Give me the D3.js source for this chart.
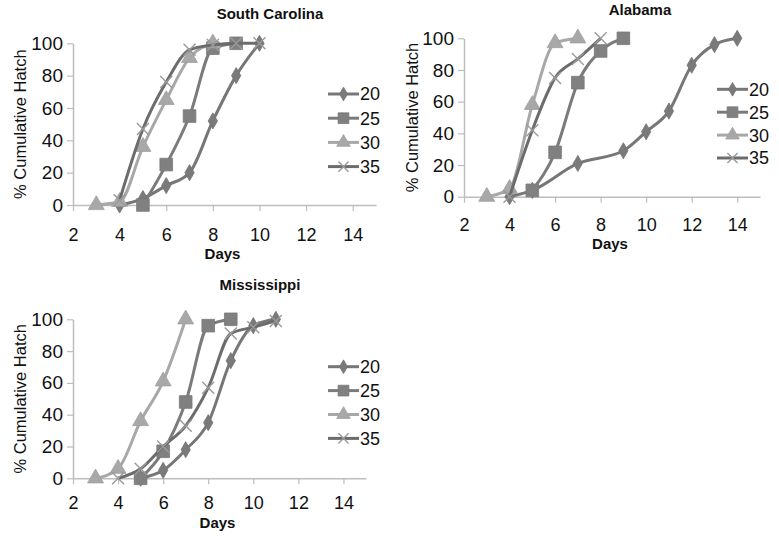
<!DOCTYPE html>
<html><head><meta charset="utf-8">
<script src="https://cdn.jsdelivr.net/npm/d3@7"></script>
<style>body{margin:0;background:#fff}svg{display:block}text{font-family:"Liberation Sans",Arial,sans-serif;fill:#111}</style>
</head><body><svg id="c" width="779" height="537"></svg>
<script>
// ---- data ----
const seriesNames = ["20","25","30","35"];
const xTicks = [2,4,6,8,10,12,14];
const yTicks = [0,20,40,60,80,100];

const scDays20 = [4,5,6,7,8,9,10];      const scVals20 = [0,4,12,20,52,80,100];
const scDays25 = [5,6,7,8,9];           const scVals25 = [0,25,55,97,100];
const scDays30 = [3,4,5,6,7,8];         const scVals30 = [0,2,36,65,91,100];
const scDays35 = [4,5,6,7,8,9,10];      const scVals35 = [3,47,76,96,99,100,100];

const alDays20 = [4,5,7,9,10,11,12,13,14]; const alVals20 = [0,4,21,29,41,54,83,96,100];
const alDays25 = [5,6,7,8,9];           const alVals25 = [4,28,72,92,100];
const alDays30 = [3,4,5,6,7];           const alVals30 = [0,5,58,97,100];
const alDays35 = [4,5,6,7,8];           const alVals35 = [0,42,75,87,100];

const msDays20 = [5,6,7,8,9,10,11];     const msVals20 = [0,5,18,35,74,96,100];
const msDays25 = [5,6,7,8,9];           const msVals25 = [0,17,48,96,100];
const msDays30 = [3,4,5,6,7];           const msVals30 = [0,6,36,61,100];
const msDays35 = [4,5,6,7,8,9,10,11];   const msVals35 = [0,6,20,33,57,91,95,99];

// ---- styles ----
const lineColors = ["#777777","#7b7b7b","#a8a8a8","#6c6c6c"];
const markerFill = ["#7a7a7a","#808080","#a8a8a8","none"];
const markers = ["diamond","square","triangle","x"];

const panels = [
  {title:"South Carolina", x0:73, x1:376, yb:205, yt:43.3, tx:270, ty:19, days:[scDays20,scDays25,scDays30,scDays35], vals:[scVals20,scVals25,scVals30,scVals35], tickDy:36.2, daysY:259, ylx:20, lgx:328, lgy:94, lgdy:24.2},
  {title:"Alabama", x0:464, x1:760, yb:196.7, yt:38.3, tx:640, ty:15, days:[alDays20,alDays25,alDays30,alDays35], vals:[alVals20,alVals25,alVals30,alVals35], tickDy:34.5, daysY:248.5, ylx:412, lgx:717, lgy:89.3, lgdy:22.9},
  {title:"Mississippi", x0:73, x1:366, yb:478.3, yt:319.3, tx:260, ty:290, days:[msDays20,msDays25,msDays30,msDays35], vals:[msVals20,msVals25,msVals30,msVals35], tickDy:31, daysY:528, ylx:20, lgx:328, lgy:366.7, lgdy:23.9}
];

const svg = d3.select("#c");

function drawMarker(g, type, cx, cy, i, legend){
  const s = legend ? 0.85 : 1;
  if(type==="x"){
    const r = 6*s;
    g.append("path").attr("d",`M${cx-r},${cy-r}L${cx+r},${cy+r}M${cx-r},${cy+r}L${cx+r},${cy-r}`)
      .attr("stroke","#9a9a9a").attr("stroke-width",1.4).attr("fill","none");
    return;
  }
  const sym = {diamond:d3.symbolDiamond, square:d3.symbolSquare, triangle:d3.symbolTriangle}[type];
  const size = {diamond:75, square:160, triangle:110}[type]*s*s;
  g.append("path").attr("d", d3.symbol().type(sym).size(size)())
    .attr("transform",`translate(${cx},${cy})`)
    .attr("fill", markerFill[i]).attr("stroke", d3.color(markerFill[i]).darker(0.15)).attr("stroke-width",0.8);
}

panels.forEach(p=>{
  const x = d3.scaleLinear().domain([2,15]).range([p.x0,p.x1]);
  const y = d3.scaleLinear().domain([0,100]).range([p.yb,p.yt]);
  const g = svg.append("g");

  // axes
  const xa = g.append("g").attr("transform",`translate(0,${p.yb})`)
    .call(d3.axisBottom(x).tickValues(xTicks).tickSize(6).tickSizeOuter(0).tickPadding(p.tickDy-19));
  xa.select(".domain").attr("stroke","#bdbdbd").attr("stroke-width",1.5);
  xa.selectAll(".tick line").attr("stroke","#bdbdbd").attr("stroke-width",1.2);
  xa.selectAll(".tick text").style("font-size","18px").attr("fill","#111");

  const ya = g.append("g").attr("transform",`translate(${p.x0},0)`)
    .call(d3.axisLeft(y).tickValues(yTicks).tickSize(6).tickSizeOuter(0).tickPadding(4));
  ya.select(".domain").attr("stroke","#bdbdbd").attr("stroke-width",1.5);
  ya.selectAll(".tick line").attr("stroke","#bdbdbd").attr("stroke-width",1.2);
  ya.selectAll(".tick text").style("font-size","19px").attr("fill","#111");

  // titles
  g.append("text").attr("x",p.tx).attr("y",p.ty).attr("text-anchor","middle")
    .style("font-size","15px").style("font-weight","bold").text(p.title);
  g.append("text").attr("x",(p.x0+p.x1)/2 - 2).attr("y",p.daysY).attr("text-anchor","middle")
    .style("font-size","15px").style("font-weight","bold").text("Days");
  g.append("text").attr("transform",`translate(${p.ylx+6},${(p.yb+p.yt)/2}) rotate(-90)`)
    .attr("text-anchor","middle").style("font-size","16.5px").text("% Cumulative Hatch");

  // series
  const line = d3.line().curve(d3.curveMonotoneX).x(d=>x(d[0])).y(d=>y(d[1]));
  seriesNames.forEach((name,i)=>{
    const pts = p.days[i].map((d,k)=>[d,p.vals[i][k]]);
    g.append("path").datum(pts).attr("d",line).attr("fill","none")
      .attr("stroke",lineColors[i]).attr("stroke-width",3).attr("stroke-linejoin","round");
    pts.forEach(d=>drawMarker(g, markers[i], x(d[0]), y(d[1]), i, false));
  });

  // legend
  seriesNames.forEach((name,i)=>{
    const ly = p.lgy + i*p.lgdy;
    g.append("line").attr("x1",p.lgx).attr("x2",p.lgx+31).attr("y1",ly).attr("y2",ly)
      .attr("stroke",lineColors[i]).attr("stroke-width",3);
    drawMarker(g, markers[i], p.lgx+15.5, ly, i, true);
    g.append("text").attr("x",p.lgx+32).attr("y",ly).attr("dy","0.36em")
      .style("font-size","18px").text(name);
  });
});
</script></body></html>
